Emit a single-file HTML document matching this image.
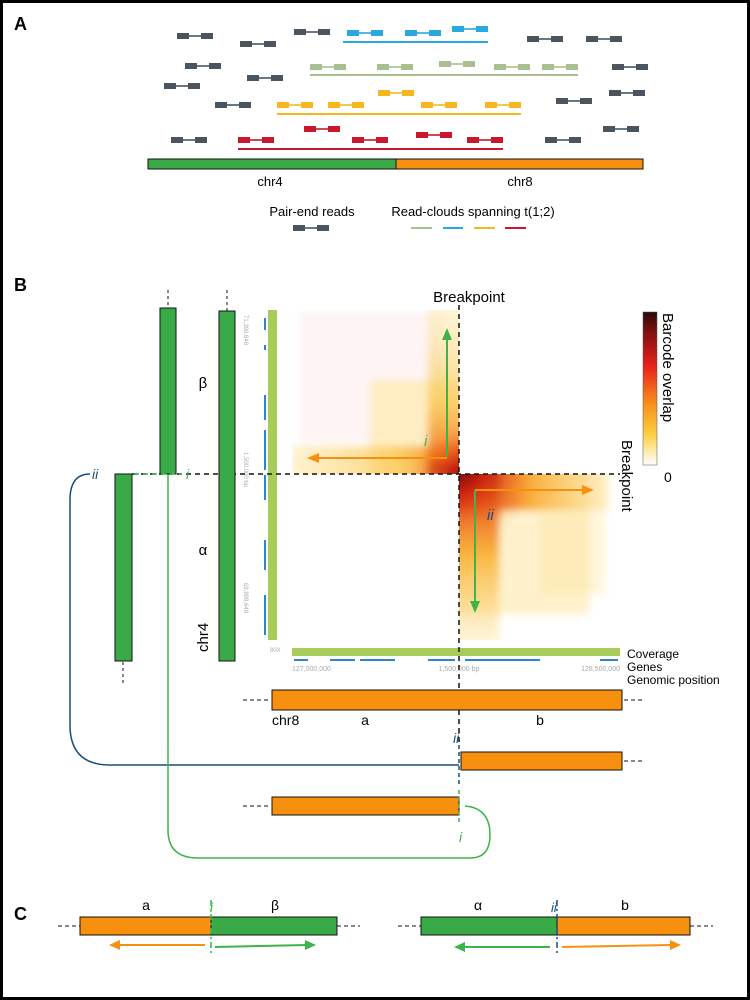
<!DOCTYPE html>
<html><head><meta charset="utf-8"><style>
html,body{margin:0;padding:0;background:#fff}
svg{display:block}
text{font-family:"Liberation Sans",sans-serif}
</style></head><body>
<svg width="750" height="1000" viewBox="0 0 750 1000" xmlns="http://www.w3.org/2000/svg">
<defs>
<g id="rd"><rect x="0" y="-3" width="12" height="6"/><rect x="24" y="-3" width="12" height="6"/><rect x="10" y="-0.8" width="16" height="1.6"/></g>
<linearGradient id="cb" x1="0" y1="0" x2="0" y2="1">
<stop offset="0" stop-color="#2a0a08"/><stop offset="0.12" stop-color="#7a1010"/><stop offset="0.35" stop-color="#e8201a"/><stop offset="0.6" stop-color="#f7901a"/><stop offset="0.8" stop-color="#fcd040"/><stop offset="1" stop-color="#ffffff"/></linearGradient>
<linearGradient id="h1" x1="0" y1="0" x2="1" y2="0"><stop offset="0" stop-color="#fde6a0" stop-opacity="0.6"/><stop offset="0.6" stop-color="#fbbf3a" stop-opacity="0.8"/><stop offset="0.9" stop-color="#f06a18"/><stop offset="1" stop-color="#b01010"/></linearGradient>
<linearGradient id="v1" x1="0" y1="0" x2="0" y2="1"><stop offset="0" stop-color="#fde6a0" stop-opacity="0.4"/><stop offset="0.6" stop-color="#fbbf3a" stop-opacity="0.8"/><stop offset="0.9" stop-color="#f06a18"/><stop offset="1" stop-color="#b01010"/></linearGradient>
<linearGradient id="h2" x1="1" y1="0" x2="0" y2="0"><stop offset="0" stop-color="#fde6a0" stop-opacity="0.5"/><stop offset="0.5" stop-color="#f9a52a"/><stop offset="0.85" stop-color="#e22a14"/><stop offset="1" stop-color="#6a0a08"/></linearGradient>
<linearGradient id="v2" x1="0" y1="1" x2="0" y2="0"><stop offset="0" stop-color="#fde6a0" stop-opacity="0.4"/><stop offset="0.5" stop-color="#f9b030"/><stop offset="0.85" stop-color="#e8401a"/><stop offset="1" stop-color="#6a0a08"/></linearGradient>
<radialGradient id="c1" cx="1" cy="1" r="1"><stop offset="0" stop-color="#400808"/><stop offset="0.4" stop-color="#d02010" stop-opacity="0.8"/><stop offset="1" stop-color="#f7a020" stop-opacity="0"/></radialGradient>
<radialGradient id="c2" cx="0" cy="0" r="1"><stop offset="0" stop-color="#400808"/><stop offset="0.4" stop-color="#d02010" stop-opacity="0.85"/><stop offset="1" stop-color="#f7a020" stop-opacity="0"/></radialGradient>
<filter id="bl" x="-10%" y="-10%" width="120%" height="120%"><feGaussianBlur stdDeviation="4"/></filter>
<clipPath id="q1"><rect x="292" y="310" width="167" height="164"/></clipPath>
<clipPath id="q2"><rect x="459" y="474" width="161" height="166"/></clipPath>
</defs>
<rect x="1.5" y="1.5" width="747" height="997" fill="none" stroke="#000" stroke-width="3"/>
<text x="14" y="30" font-size="18" font-weight="bold">A</text>
<text x="14" y="291" font-size="18" font-weight="bold">B</text>
<text x="14" y="920" font-size="18" font-weight="bold">C</text>

<!-- Panel A reads -->
<g fill="#4a5560">
<use href="#rd" x="177" y="36"/><use href="#rd" x="240" y="44"/><use href="#rd" x="294" y="32"/><use href="#rd" x="527" y="39"/><use href="#rd" x="586" y="39"/><use href="#rd" x="185" y="66"/><use href="#rd" x="247" y="78"/><use href="#rd" x="164" y="86"/><use href="#rd" x="215" y="105"/><use href="#rd" x="556" y="101"/><use href="#rd" x="612" y="67"/><use href="#rd" x="609" y="93"/><use href="#rd" x="171" y="140"/><use href="#rd" x="545" y="140"/><use href="#rd" x="603" y="129"/>
</g>
<g fill="#2aa8e0"><use href="#rd" x="347" y="33"/><use href="#rd" x="405" y="33"/><use href="#rd" x="452" y="29"/><rect x="343" y="41" width="145" height="2"/></g>
<g fill="#a8c090"><use href="#rd" x="310" y="67"/><use href="#rd" x="377" y="67"/><use href="#rd" x="439" y="64"/><use href="#rd" x="494" y="67"/><use href="#rd" x="542" y="67"/><rect x="310" y="74" width="268" height="2"/></g>
<g fill="#f6b81e"><use href="#rd" x="277" y="105"/><use href="#rd" x="328" y="105"/><use href="#rd" x="378" y="93"/><use href="#rd" x="421" y="105"/><use href="#rd" x="485" y="105"/><rect x="277" y="113" width="244" height="2"/></g>
<g fill="#c8182e"><use href="#rd" x="238" y="140"/><use href="#rd" x="304" y="129"/><use href="#rd" x="352" y="140"/><use href="#rd" x="416" y="135"/><use href="#rd" x="467" y="140"/><rect x="238" y="148" width="265" height="2"/></g>
<rect x="148" y="159" width="248" height="10" fill="#3aaa48" stroke="#111"/>
<rect x="396" y="159" width="247" height="10" fill="#f7900f" stroke="#111"/>
<text x="270" y="186" font-size="13" text-anchor="middle">chr4</text>
<text x="520" y="186" font-size="13" text-anchor="middle">chr8</text>
<text x="312" y="216" font-size="13" text-anchor="middle">Pair-end reads</text>
<text x="473" y="216" font-size="13" text-anchor="middle">Read-clouds spanning t(1;2)</text>
<g fill="#4a5560"><use href="#rd" x="293" y="228"/></g>
<rect x="411" y="227" width="21" height="2" fill="#a8c090"/><rect x="443" y="227" width="20" height="2" fill="#2aa8e0"/><rect x="474" y="227" width="21" height="2" fill="#f6b81e"/><rect x="505" y="227" width="21" height="2" fill="#c8182e"/>

<!-- Heatmap -->
<g clip-path="url(#q1)"><g filter="url(#bl)">
<rect x="300" y="312" width="140" height="130" fill="#fbe0e0" opacity="0.35"/>
<rect x="370" y="380" width="89" height="94" fill="#fde6a0" opacity="0.6"/>
<rect x="292" y="446" width="180" height="40" fill="url(#h1)" opacity="0.85"/>
<rect x="428" y="300" width="44" height="174" fill="url(#v1)" opacity="0.85"/>
<rect x="409" y="424" width="60" height="60" fill="url(#c1)"/>
</g></g>
<g clip-path="url(#q2)"><g filter="url(#bl)">
<rect x="450" y="465" width="139" height="149" fill="#fde6a0" opacity="0.55"/>
<rect x="540" y="474" width="65" height="120" fill="#fde6a0" opacity="0.4"/>
<rect x="450" y="465" width="159" height="45" fill="url(#h2)" opacity="0.9"/>
<rect x="450" y="465" width="49" height="180" fill="url(#v2)" opacity="0.9"/>
<rect x="450" y="465" width="89" height="79" fill="url(#c2)"/>
</g></g>
<!-- side tracks -->
<rect x="268" y="310" width="9" height="330" fill="#a8cc5a"/>
<g stroke="#2e86c8" stroke-width="2">
<line x1="265" y1="318" x2="265" y2="330"/><line x1="265" y1="345" x2="265" y2="350"/><line x1="265" y1="395" x2="265" y2="420"/><line x1="265" y1="430" x2="265" y2="470"/><line x1="265" y1="475" x2="265" y2="500"/><line x1="265" y1="540" x2="265" y2="570"/><line x1="265" y1="595" x2="265" y2="635"/></g>
<text font-size="6" fill="#aaa" transform="translate(244,315) rotate(90)">71,398,648</text>
<text font-size="6" fill="#aaa" transform="translate(244,452) rotate(90)">1,500,000 bp</text>
<text font-size="6" fill="#aaa" transform="translate(244,583) rotate(90)">69,898,648</text>
<rect x="292" y="648" width="328" height="8" fill="#a8cc5a"/>
<text x="270" y="652" font-size="6" fill="#aaa">80X</text>
<g stroke="#2e86c8" stroke-width="2">
<line x1="294" y1="660" x2="308" y2="660"/><line x1="330" y1="660" x2="355" y2="660"/><line x1="360" y1="660" x2="395" y2="660"/><line x1="428" y1="660" x2="455" y2="660"/><line x1="465" y1="660" x2="540" y2="660"/><line x1="600" y1="660" x2="618" y2="660"/></g>
<text x="292" y="671" font-size="7" fill="#aaa">127,000,000</text>
<text x="459" y="671" font-size="7" fill="#aaa" text-anchor="middle">1,500,000 bp</text>
<text x="620" y="671" font-size="7" fill="#aaa" text-anchor="end">128,500,000</text>
<text x="627" y="658" font-size="12">Coverage</text>
<text x="627" y="671" font-size="12">Genes</text>
<text x="627" y="684" font-size="12">Genomic position</text>

<!-- colorbar -->
<rect x="643" y="312" width="14" height="153" fill="url(#cb)" stroke="#555" stroke-width="0.5"/>
<text font-size="15" transform="translate(663,313) rotate(90)">Barcode overlap</text>
<text x="664" y="482" font-size="14">0</text>
<text font-size="15" transform="translate(622,440) rotate(90)">Breakpoint</text>
<text x="469" y="302" font-size="15" text-anchor="middle">Breakpoint</text>

<!-- dashed crosshair -->
<line x1="459" y1="305" x2="459" y2="745" stroke="#111" stroke-width="1.5" stroke-dasharray="5,4"/>
<line x1="240" y1="474" x2="620" y2="474" stroke="#111" stroke-width="1.5" stroke-dasharray="5,4"/>
<line x1="132" y1="474" x2="240" y2="474" stroke="#111" stroke-width="1.5" stroke-dasharray="5,4"/>

<!-- arrows -->
<g stroke-width="2" fill="none">
<line x1="447" y1="457" x2="447" y2="338" stroke="#3cb44a"/>
<line x1="447" y1="458" x2="316" y2="458" stroke="#f7900f"/>
<line x1="475" y1="490" x2="585" y2="490" stroke="#f7900f"/>
<line x1="475" y1="490" x2="475" y2="604" stroke="#3cb44a"/>
</g>
<polygon points="447,328 442,340 452,340" fill="#3cb44a"/>
<polygon points="307,458 319,453 319,463" fill="#f7900f"/>
<polygon points="594,490 582,485 582,495" fill="#f7900f"/>
<polygon points="475,613 470,601 480,601" fill="#3cb44a"/>
<text x="424" y="446" font-size="15" font-style="italic" fill="#3cb44a">i</text>
<text x="487" y="520" font-size="15" font-style="italic" fill="#1a4e7a">ii</text>

<!-- chromosome diagrams left -->
<line x1="227" y1="290" x2="227" y2="311" stroke="#111" stroke-dasharray="3,3"/>
<rect x="219" y="311" width="16" height="350" fill="#3aaa48" stroke="#111"/>
<line x1="168" y1="290" x2="168" y2="308" stroke="#111" stroke-dasharray="3,3"/>
<rect x="160" y="308" width="16" height="166" fill="#3aaa48" stroke="#111"/>
<rect x="115" y="474" width="17" height="187" fill="#3aaa48" stroke="#111"/>
<line x1="123" y1="662" x2="123" y2="685" stroke="#111" stroke-dasharray="3,3"/>
<text x="203" y="388" font-size="15" text-anchor="middle">β</text>
<text x="203" y="555" font-size="15" text-anchor="middle">α</text>
<text font-size="15" transform="translate(208,652) rotate(-90)">chr4</text>
<text x="92" y="479" font-size="14" font-style="italic" fill="#1a4e7a">ii</text>
<text x="186" y="479" font-size="14" font-style="italic" fill="#3cb44a">i</text>
<line x1="134" y1="474" x2="182" y2="474" stroke="#3cb44a" stroke-width="1.5" stroke-dasharray="5,4"/>
<path d="M90,474 Q70,474 70,500 L70,725 Q70,765 110,765 L459,765" fill="none" stroke="#1a4e7a" stroke-width="1.5"/>
<path d="M168,474 L168,830 Q168,858 198,858 L470,858 Q490,858 490,835 Q490,808 465,806" fill="none" stroke="#3cb44a" stroke-width="1.5"/>

<!-- orange bars -->
<line x1="243" y1="700" x2="271" y2="700" stroke="#111" stroke-dasharray="4,3"/>
<rect x="272" y="690" width="350" height="20" fill="#f7900f" stroke="#111"/>
<line x1="624" y1="700" x2="645" y2="700" stroke="#111" stroke-dasharray="4,3"/>
<text x="272" y="725" font-size="14">chr8</text>
<text x="365" y="725" font-size="14" text-anchor="middle">a</text>
<text x="540" y="725" font-size="14" text-anchor="middle">b</text>
<text x="453" y="743" font-size="14" font-style="italic" fill="#1a4e7a">ii</text>
<line x1="459" y1="745" x2="459" y2="785" stroke="#1a4e7a" stroke-width="1.5" stroke-dasharray="4,3"/>
<rect x="461" y="752" width="161" height="18" fill="#f7900f" stroke="#111"/>
<line x1="624" y1="761" x2="645" y2="761" stroke="#111" stroke-dasharray="4,3"/>
<line x1="243" y1="806" x2="271" y2="806" stroke="#111" stroke-dasharray="4,3"/>
<rect x="272" y="797" width="187" height="18" fill="#f7900f" stroke="#111"/>
<line x1="459" y1="790" x2="459" y2="825" stroke="#3cb44a" stroke-width="1.5" stroke-dasharray="4,3"/>
<text x="459" y="842" font-size="14" font-style="italic" fill="#3cb44a">i</text>

<!-- Panel C -->
<line x1="58" y1="926" x2="80" y2="926" stroke="#111" stroke-dasharray="4,3"/>
<rect x="80" y="917" width="131" height="18" fill="#f7900f" stroke="#111"/>
<rect x="211" y="917" width="126" height="18" fill="#3aaa48" stroke="#111"/>
<line x1="337" y1="926" x2="360" y2="926" stroke="#111" stroke-dasharray="4,3"/>
<line x1="211" y1="900" x2="211" y2="955" stroke="#3cb44a" stroke-width="1.5" stroke-dasharray="6,3,2,3"/>
<text x="146" y="910" font-size="14" text-anchor="middle">a</text>
<text x="275" y="910" font-size="14" text-anchor="middle">β</text>
<text x="210" y="912" font-size="13" font-style="italic" fill="#3cb44a">i</text>
<line x1="205" y1="945" x2="118" y2="945" stroke="#f7900f" stroke-width="2"/>
<polygon points="109,945 120,940 120,950" fill="#f7900f"/>
<line x1="215" y1="947" x2="307" y2="945" stroke="#3cb44a" stroke-width="2"/>
<polygon points="316,945 305,940 305,950" fill="#3cb44a"/>

<line x1="398" y1="926" x2="421" y2="926" stroke="#111" stroke-dasharray="4,3"/>
<rect x="421" y="917" width="136" height="18" fill="#3aaa48" stroke="#111"/>
<rect x="557" y="917" width="133" height="18" fill="#f7900f" stroke="#111"/>
<line x1="690" y1="926" x2="713" y2="926" stroke="#111" stroke-dasharray="4,3"/>
<line x1="557" y1="900" x2="557" y2="955" stroke="#1a4e7a" stroke-width="1.5" stroke-dasharray="6,3,2,3"/>
<text x="478" y="910" font-size="14" text-anchor="middle">α</text>
<text x="625" y="910" font-size="14" text-anchor="middle">b</text>
<text x="551" y="912" font-size="13" font-style="italic" fill="#1a4e7a">ii</text>
<line x1="550" y1="947" x2="463" y2="947" stroke="#3cb44a" stroke-width="2"/>
<polygon points="454,947 465,942 465,952" fill="#3cb44a"/>
<line x1="562" y1="947" x2="672" y2="945" stroke="#f7900f" stroke-width="2"/>
<polygon points="681,945 670,940 670,950" fill="#f7900f"/>
</svg>
</body></html>
